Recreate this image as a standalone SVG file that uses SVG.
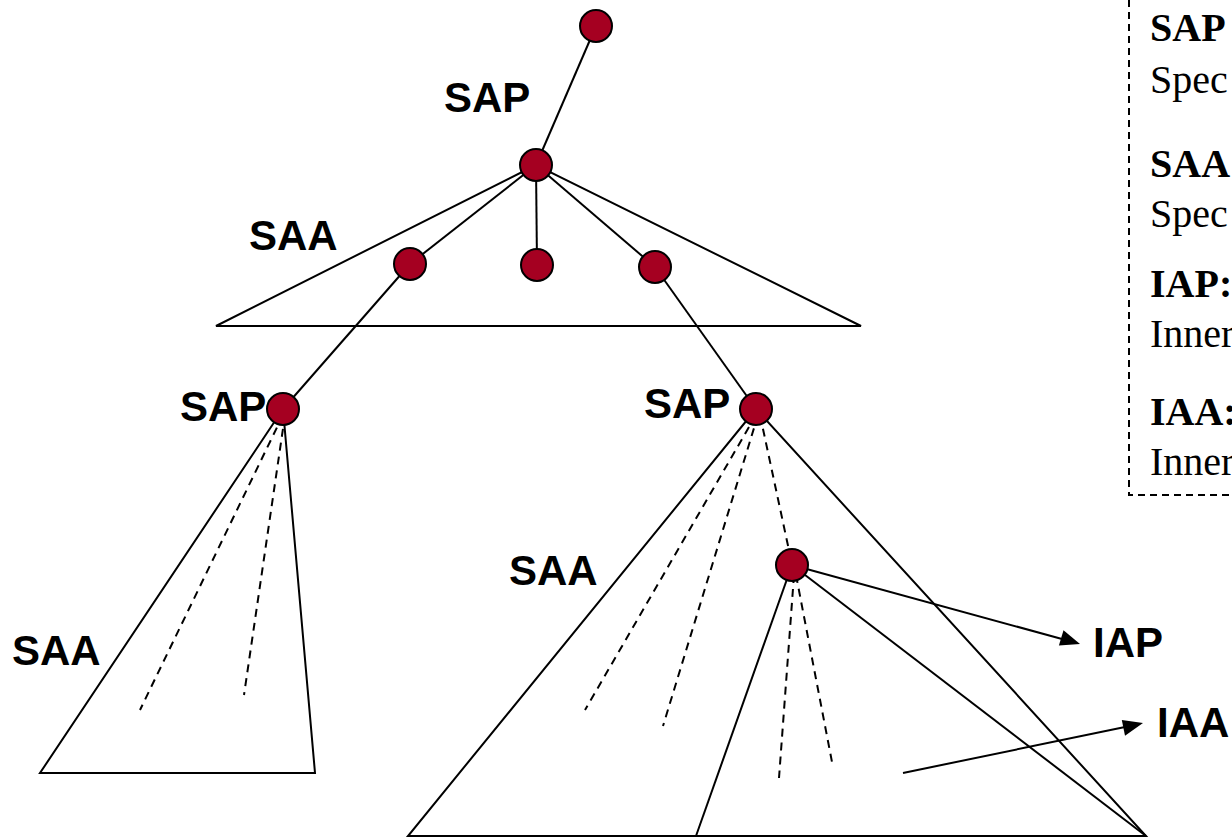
<svg xmlns="http://www.w3.org/2000/svg" width="1232" height="839" viewBox="0 0 1232 839">
<defs>
<style>
.ln{stroke:#000;stroke-width:2;fill:none}
.ds{stroke:#000;stroke-width:2;fill:none;stroke-dasharray:8,6}
.bx{stroke:#000;stroke-width:2;fill:none;stroke-dasharray:7,5}
.nd{fill:#A50021;stroke:#000;stroke-width:2}
.ah{fill:#000}
.lb{font-family:"Liberation Sans",Arial,sans-serif;font-weight:bold;font-size:42px;fill:#000}
.lgh{font-family:"Liberation Serif","Times New Roman",serif;font-weight:bold;font-size:40px;fill:#000}
.lgt{font-family:"Liberation Serif","Times New Roman",serif;font-size:40px;fill:#000}
</style>
</defs>
<rect width="1232" height="839" fill="#fff"/>
<g id="connectors">
<line class="ln" x1="596" y1="26" x2="536" y2="165"/>
<polygon class="ln" points="536,165 216,326 861,326"/>
<line class="ln" x1="536" y1="165" x2="410" y2="264"/>
<line class="ln" x1="536" y1="165" x2="537" y2="265"/>
<line class="ln" x1="536" y1="165" x2="655" y2="267"/>
<line class="ln" x1="410" y1="264" x2="283" y2="409"/>
<line class="ln" x1="655" y1="267" x2="756" y2="409"/>
<polygon class="ln" points="283,409 40,773 315,773"/>
<line class="ds" x1="283" y1="415" x2="140" y2="710"/>
<line class="ds" x1="285" y1="415" x2="244" y2="695"/>
<polygon class="ln" points="756,409 408,836 1146,836"/>
<line class="ds" x1="756" y1="415" x2="585" y2="710"/>
<line class="ds" x1="758" y1="415" x2="663" y2="726"/>
<line class="ds" x1="760" y1="415" x2="790" y2="555"/>
<line class="ln" x1="792" y1="565" x2="696" y2="836"/>
<line class="ln" x1="792" y1="565" x2="1146" y2="836"/>
<line class="ds" x1="794" y1="575" x2="779" y2="778"/>
<line class="ds" x1="796" y1="575" x2="832" y2="762"/>
<line class="ln" x1="792" y1="565" x2="1062" y2="639"/>
<path class="ah" d="M1080,644 L1058.9,645.6 L1063.5,630.2 Z"/>
<line class="ln" x1="903" y1="773" x2="1125" y2="727"/>
<path class="ah" d="M1143,723 L1125.0,735.8 L1121.8,720.1 Z"/>
</g>
<g id="n-root"><circle class="nd" cx="596" cy="26" r="16"/></g>
<g id="n-sap1"><circle class="nd" cx="536" cy="165" r="16"/></g>
<g id="n-c1"><circle class="nd" cx="410" cy="264" r="16"/></g>
<g id="n-c2"><circle class="nd" cx="537" cy="265" r="16"/></g>
<g id="n-c3"><circle class="nd" cx="655" cy="267" r="16"/></g>
<g id="n-sapl"><circle class="nd" cx="283" cy="409" r="16"/></g>
<g id="n-sapr"><circle class="nd" cx="756" cy="409" r="16"/></g>
<g id="n-inner"><circle class="nd" cx="792" cy="565" r="16"/></g>
<g id="labels">
<text class="lb" x="444" y="112">SAP</text>
<text class="lb" x="249" y="250">SAA</text>
<text class="lb" x="180" y="421">SAP</text>
<text class="lb" x="644" y="418">SAP</text>
<text class="lb" x="509" y="585">SAA</text>
<text class="lb" x="12" y="665">SAA</text>
<text class="lb" x="1093" y="657">IAP</text>
<text class="lb" x="1157" y="737">IAA</text>
</g>
<g id="legend">
<path class="bx" d="M1129,0 V495 H1240"/>
<text class="lgh" x="1150" y="41">SAP</text>
<text class="lgt" x="1150" y="93">Spec</text>
<text class="lgh" x="1150" y="177">SAA</text>
<text class="lgt" x="1150" y="227">Spec</text>
<text class="lgh" x="1150" y="297">IAP:</text>
<text class="lgt" x="1150" y="347">Inner</text>
<text class="lgh" x="1150" y="425">IAA:</text>
<text class="lgt" x="1150" y="475">Inner</text>
</g>
</svg>
